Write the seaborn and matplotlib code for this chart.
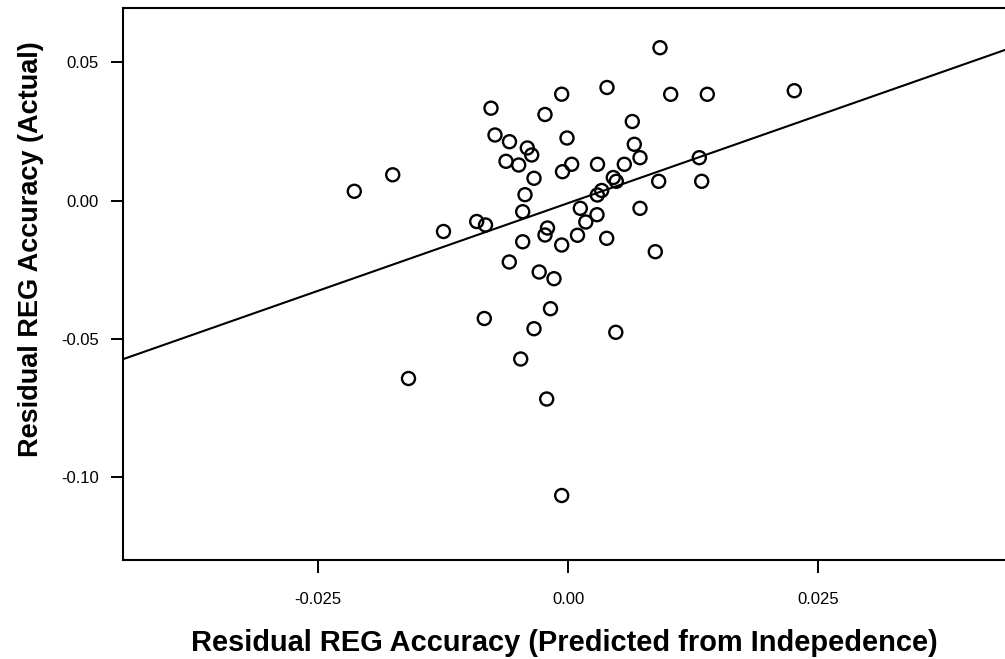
import matplotlib
matplotlib.use("Agg")
import matplotlib.pyplot as plt
import seaborn as sns
import pandas as pd

# Residual REG Accuracy (Predicted from Independence) vs (Actual)
x_pred = [-0.02140, -0.01756, -0.01248, -0.00916, -0.00828, -0.00773, -0.00733, -0.01598,
          -0.00840, -0.00588, -0.00410, -0.00366, -0.00623, -0.00496, -0.00343, -0.00233,
          -0.00066, -0.00013, 0.00034, -0.00058, -0.00433, -0.00456, 0.00120, 0.00292,
          0.00387, 0.00917, 0.01024, 0.01390, 0.02260, 0.00640, 0.00660, 0.00717,
          0.00560, 0.01310, 0.00450, 0.00480, 0.00904, 0.01334, 0.00334, 0.00290,
          0.00287, 0.00717, 0.00175, -0.00208, -0.00233, -0.00456, -0.00066, 0.00092,
          0.00384, 0.00870, -0.00590, -0.00291, -0.00143, -0.00178, -0.00343, 0.00475,
          -0.00476, -0.00216, -0.00066]
y_actual = [0.00340, 0.00936, -0.01113, -0.00752, -0.00878, 0.03343, 0.02374, -0.06426,
            -0.04257, 0.02132, 0.01905, 0.01652, 0.01424, 0.01290, 0.00810, 0.03115,
            0.03849, 0.02266, 0.01316, 0.01048, 0.00217, -0.00398, -0.00275, 0.01316,
            0.04091, 0.05529, 0.03845, 0.03845, 0.03975, 0.02862, 0.02038, 0.01554,
            0.01316, 0.01554, 0.00838, 0.00701, 0.00701, 0.00701, 0.00369, 0.00206,
            -0.00506, -0.00275, -0.00770, -0.00987, -0.01240, -0.01485, -0.01601, -0.01250,
            -0.01359, -0.01843, -0.02215, -0.02577, -0.02819, -0.03903, -0.04626, -0.04756,
            -0.05721, -0.07167, -0.10654]

x_ticks = [-0.025, 0.0, 0.025]
x_tick_labels = ["-0.025", "0.00", "0.025"]
y_ticks = [0.05, 0.0, -0.05, -0.10]
y_tick_labels = ["0.05", "0.00", "-0.05", "-0.10"]
x_label = "Residual REG Accuracy (Predicted from Indepedence)"
y_label = "Residual REG Accuracy (Actual)"

df = pd.DataFrame({"pred": x_pred, "actual": y_actual})

sns.set_style("white")
plt.rcParams["font.family"] = ["Liberation Sans", "DejaVu Sans"]

fig = plt.figure(figsize=(10.05, 6.59), dpi=100)
ax = fig.add_axes([122.7 / 1005, (659 - 560) / 659, 1 - 122.7 / 1005, (560 - 7.5) / 659])
ax.set_xlim(-0.04456, 0.04367)
ax.set_ylim(-0.12985, 0.06982)

sns.regplot(data=df, x="pred", y="actual", ax=ax, ci=None, truncate=False,
            scatter_kws=dict(s=88, facecolors="none", edgecolors="black",
                             linewidths=1.7, alpha=1),
            line_kws=dict(color="black", lw=1.5), color="black")
ax.set_xlim(-0.04456, 0.04367)
ax.set_ylim(-0.12985, 0.06982)

ax.set_xticks(x_ticks)
ax.set_xticklabels(x_tick_labels)
ax.set_yticks(y_ticks)
ax.set_yticklabels(y_tick_labels)
ax.tick_params(axis="both", direction="out", length=9, width=1.4, color="black",
               labelsize=12, labelcolor="black", bottom=True, left=True)
ax.tick_params(axis="x", pad=14)
ax.tick_params(axis="y", pad=8)

for side in ["left", "bottom", "top"]:
    ax.spines[side].set_visible(True)
    ax.spines[side].set_color("black")
    ax.spines[side].set_linewidth(1.5)
ax.spines["right"].set_visible(False)

ax.set_xlabel(x_label, fontsize=20.9, fontweight="bold", color="black", va="center")
ax.xaxis.set_label_coords(0.501, (560 - 643) / 552.5)
ax.set_ylabel(y_label, fontsize=19.5, fontweight="bold", color="black", va="center")
ax.yaxis.set_label_coords((31 - 122.7) / 882.3, (560 - 249) / 552.5)

fig.savefig("out.png", dpi=100)
